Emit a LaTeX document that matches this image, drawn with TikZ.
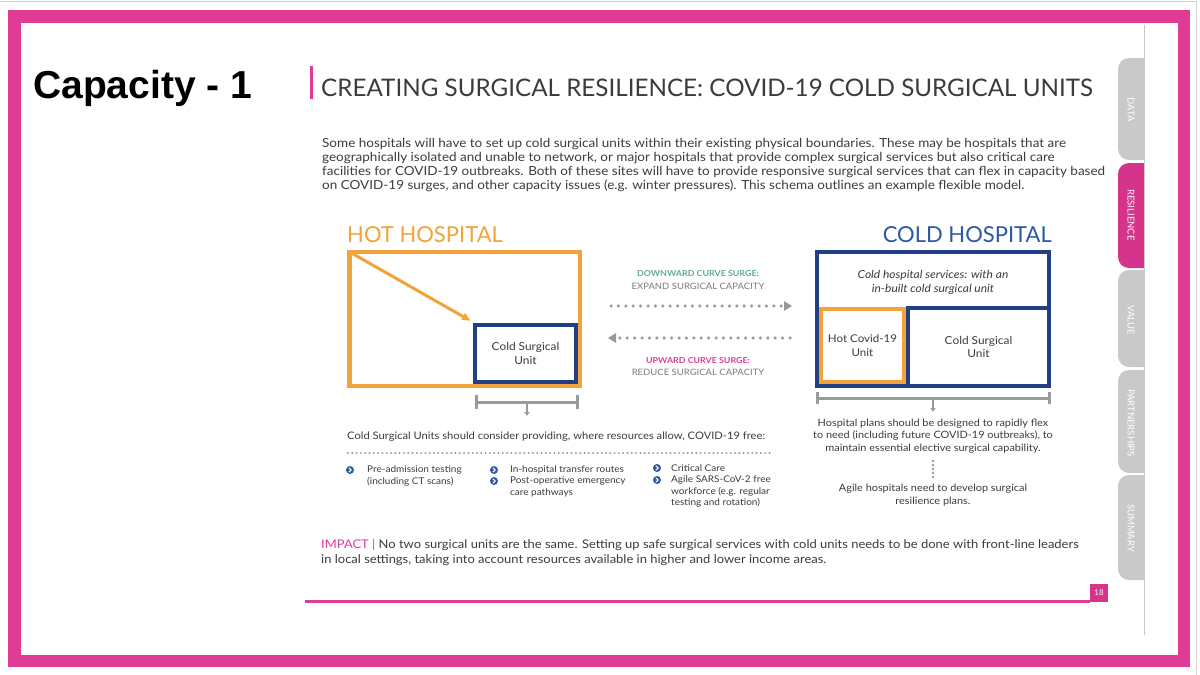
\documentclass[tikz,border=0pt]{standalone}
\usepackage{fontspec}
\setmainfont{Lato}[FakeStretch=1.08]
\newfontfamily\latop{Lato}
\newfontfamily\arialb{Liberation Sans}
\usetikzlibrary{arrows.meta}
\definecolor{pinkm}{HTML}{E03C96}
\definecolor{pinkt}{HTML}{D5348A}
\definecolor{orangeh}{HTML}{F2A33A}
\definecolor{navyc}{HTML}{213F82}
\definecolor{bluec}{HTML}{2C58A4}
\definecolor{txtg}{HTML}{3C3C3C}
\definecolor{grayl}{HTML}{9A9A9A}
\definecolor{tabg}{HTML}{C9C9C9}
\definecolor{greent}{HTML}{5FAE8E}
\newcommand\fsz[2]{\fontsize{#1}{#2}\selectfont}
\newcommand\mybul[2]{%
  \node[bul] (#1) at (#2) {};
  \draw[white, line width=1.1, line cap=round, line join=round] ([shift={(-1,-2)}]#1.center) -- ([shift={(1.2,0)}]#1.center) -- ([shift={(-1,2)}]#1.center);
}
\begin{document}
\begin{tikzpicture}[x=1pt,y=-1pt,
  lab/.style={text=txtg, inner sep=0, align=center},
  tabtxt/.style={text=white, rotate=-90, inner sep=0, font=\latop\fsz{9.5}{9.5}},
  bracket/.style={draw=grayl, line width=3},
  dotarrow/.style={draw=grayl, line width=3.5, line cap=round, dash pattern=on 0pt off 7.4pt},
  bul/.style={circle, fill=bluec, minimum size=8, inner sep=0},
  btxt/.style={text=txtg, inner sep=0, align=left, anchor=west, font=\fsz{9.26}{11.5}}
]
\useasboundingbox (0,0) rectangle (1200,675);
\fill[white] (0,0) rectangle (1200,675);
\draw[gray!35, line width=1] (0,1.5) -- (1196,1.5) -- (1196,675);
% tabs
\fill[tabg, rounded corners=11] (1118,58) rectangle (1165,160);
\fill[pinkt, rounded corners=11] (1118,163) rectangle (1165,268);
\fill[tabg, rounded corners=11] (1118,270) rectangle (1165,367);
\fill[tabg, rounded corners=11] (1118,370) rectangle (1165,473);
\fill[tabg, rounded corners=11] (1118,475) rectangle (1165,580);
\fill[white] (1145,23) rectangle (1178,655);
\draw[gray!45, line width=0.8] (1144.5,25) -- (1144.5,635);
\node[tabtxt] (tdata) at (1131,110) {DATA};
\node[tabtxt] (tres) at (1131,215) {RESILIENCE};
\node[tabtxt] (tval) at (1131,320) {VALUE};
\node[tabtxt] (tpart) at (1131,423) {PARTNERSHIPS};
\node[tabtxt] (tsum) at (1131,528) {SUMMARY};
% frame
\draw[pinkm, line width=12.5] (14.5,16.5) rectangle (1184,661);
% header
\node[anchor=base west, inner sep=0, font=\arialb\bfseries\fsz{39}{39}] (cap) at (33,98) {Capacity - 1};
\fill[pinkm] (310,66) rectangle (313,99);
\node[anchor=base west, inner sep=0, text=txtg, font=\latop\fsz{24.2}{24.2}] (title) at (321,96) {CREATING SURGICAL RESILIENCE: COVID-19 COLD SURGICAL UNITS};
\node[anchor=north west, align=left, inner sep=0, text=txtg, font=\fsz{12.5}{13.9}] (para) at (322,138)
{Some hospitals will have to set up cold surgical units within their existing physical boundaries. These may be hospitals that are\\
geographically isolated and unable to network, or major hospitals that provide complex surgical services but also critical care\\
facilities for COVID-19 outbreaks. Both of these sites will have to provide responsive surgical services that can flex in capacity based\\
on COVID-19 surges, and other capacity issues (e.g. winter pressures). This schema outlines an example flexible model.};
% hot hospital
\node[anchor=base west, inner sep=0, text=orangeh, font=\latop\fsz{22}{22}] (hottitle) at (347,242) {HOT HOSPITAL};
\node[draw=orangeh, line width=4.5, minimum width=230.5, minimum height=134, inner sep=0] (hot) at (464.75,319) {};
\node[draw=navyc, line width=4, fill=white, minimum width=101, minimum height=57, lab, font=\fsz{11}{13.5}] (csu) at (525.5,353.5) {Cold Surgical\\Unit};
\draw[orangeh, line width=3, -{Latex[length=9,width=9]}] ([shift={(2,2)}]hot.north west) -- ([shift={(-2,-2)}]csu.north west);
\coordinate (lb1) at (476,402);
\coordinate (lb2) at (577,402);
\coordinate (lbm) at (527,402);
\coordinate (lbd) at (527,416);
\draw[bracket] (lb1) -- (lb2);
\draw[bracket] ([yshift=-7]lb1) -- ([yshift=7]lb1);
\draw[bracket] ([yshift=-7]lb2) -- ([yshift=7]lb2);
\draw[draw=grayl, line width=2, -{Latex[length=4,width=6]}] (lbm) -- (lbd);
% middle
\node[lab, text=greent, font=\bfseries\fsz{8.2}{8.2}] (down1) at (698,274) {DOWNWARD CURVE SURGE:};
\node[lab, text=grayl!80!black, font=\fsz{8.8}{8.8}] (down2) at (698,286) {EXPAND SURGICAL CAPACITY};
\coordinate (ra1) at (611,306);
\coordinate (ra2) at (792,306);
\coordinate (la1) at (790,338);
\coordinate (la2) at (608,338);
\draw[dotarrow] (ra1) -- ([xshift=-7]ra2);
\fill[grayl] (ra2) -- ++(-8,-5) -- ++(0,10) -- cycle;
\draw[dotarrow] (la1) -- ([xshift=7]la2);
\fill[grayl] (la2) -- ++(8,-5) -- ++(0,10) -- cycle;
\node[lab, text=pinkm, font=\bfseries\fsz{8.2}{8.2}] (up1) at (698,361) {UPWARD CURVE SURGE:};
\node[lab, text=grayl!80!black, font=\fsz{8.8}{8.8}] (up2) at (698,372) {REDUCE SURGICAL CAPACITY};
% cold hospital
\node[anchor=base east, inner sep=0, text=bluec, font=\latop\fsz{22}{22}] (coldtitle) at (1052,242) {COLD HOSPITAL};
\node[draw=navyc, line width=4, minimum width=232, minimum height=134, inner sep=0] (cold) at (933,319) {};
\node[lab, font=\itshape\fsz{11.1}{14}] (services) at (933,282) {Cold hospital services: with an\\in-built cold surgical unit};
\node[draw=navyc, line width=4, minimum width=141, minimum height=78, lab, font=\fsz{11}{13.5}] (csu2) at (978.5,347) {Cold Surgical\\Unit};
\node[draw=orangeh, line width=4, fill=white, minimum width=83, minimum height=73, lab, font=\fsz{10.7}{13.5}] (hcu) at (862.5,345.5) {Hot Covid-19\\Unit};
\coordinate (rb1) at (817,398);
\coordinate (rb2) at (1049,398);
\coordinate (rbm) at (933,398);
\coordinate (rbd) at (933,412);
\draw[bracket] (rb1) -- (rb2);
\draw[bracket] ([yshift=-6]rb1) -- ([yshift=6]rb1);
\draw[bracket] ([yshift=-6]rb2) -- ([yshift=6]rb2);
\draw[draw=grayl, line width=2, -{Latex[length=4,width=6]}] (rbm) -- (rbd);
\node[lab, font=\fsz{10.1}{12.8}] (plans) at (933,436) {Hospital plans should be designed to rapidly flex\\to need (including future COVID-19 outbreaks), to\\maintain essential elective surgical capability.};
\coordinate (vd1) at (933,461);
\coordinate (vd2) at (933,477);
\draw[draw=grayl, line width=2.6, line cap=round, dash pattern=on 0pt off 4pt] (vd1) -- (vd2);
\node[lab, font=\fsz{10.1}{13}] (agile) at (933,495) {Agile hospitals need to develop surgical\\resilience plans.};
% bottom left list
\node[lab, anchor=west, font=\fsz{10.35}{12}] (consider) at (347,437) {Cold Surgical Units should consider providing, where resources allow, COVID-19 free:};
\coordinate (hd1) at (348,453);
\coordinate (hd2) at (772,453);
\draw[draw=grayl, line width=2.2, line cap=round, dash pattern=on 0pt off 4.3pt] (hd1) -- (hd2);
\mybul{b1}{350,470}
\node[btxt] (t1) at (367,476) {Pre-admission testing\\(including CT scans)};
\mybul{b2}{494,470}
\node[btxt] (t2) at (510,470) {In-hospital transfer routes};
\mybul{b3}{494,481}
\node[btxt] (t3) at (510,487) {Post-operative emergency\\care pathways};
\mybul{b4}{657,468}
\node[btxt] (t4) at (671,468) {Critical Care};
\mybul{b5}{657,480}
\node[btxt] (t5) at (671,491.5) {Agile SARS-CoV-2 free\\workforce (e.g. regular\\testing and rotation)};
% impact
\node[anchor=north west, align=left, inner sep=0, text=txtg, font=\fsz{12}{15.5}] (impact) at (321,539)
{\textcolor{pinkm}{IMPACT |} No two surgical units are the same. Setting up safe surgical services with cold units needs to be done with front-line leaders\\
in local settings, taking into account resources available in higher and lower income areas.};
% footer
\draw[pinkm, line width=3] (305,601) -- (1090,601);
\node[fill=pinkt, minimum width=18, minimum height=18, inner sep=0, text=white, font=\latop\fsz{8}{8}] (pg) at (1099,593) {18};
\end{tikzpicture}
\end{document}
